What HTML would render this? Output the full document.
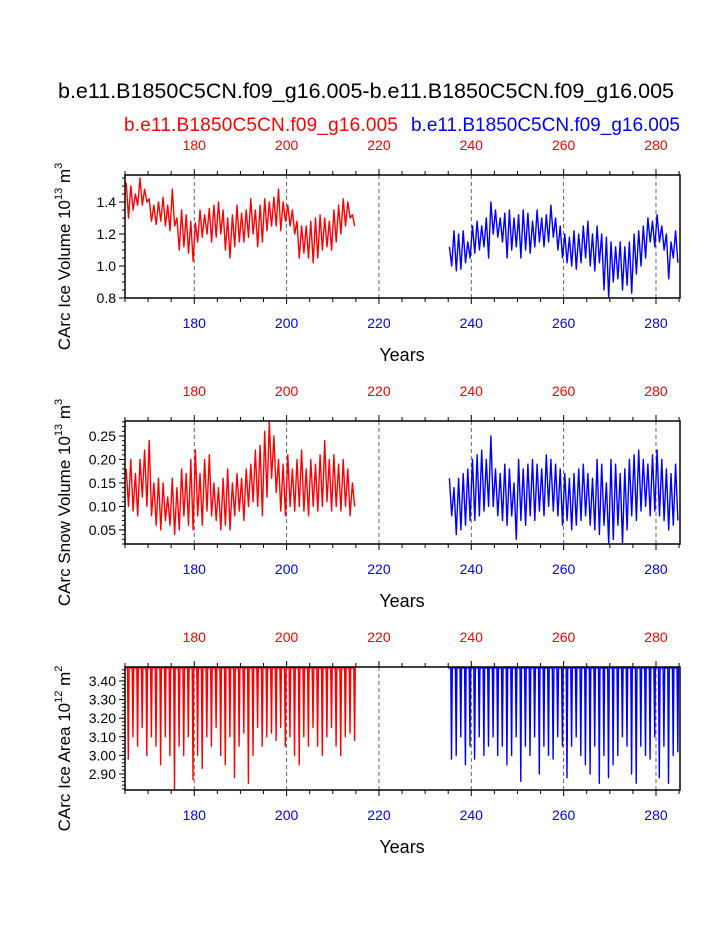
<!DOCTYPE html>
<html><head><meta charset="utf-8"><style>
body{margin:0;background:#fff}
svg{display:block;font-family:"Liberation Sans",sans-serif}
</style></head><body>
<svg id="c" width="723" height="935">
<text x="366" y="98" font-size="21.5" text-anchor="middle">b.e11.B1850C5CN.f09_g16.005-b.e11.B1850C5CN.f09_g16.005</text>
<text x="124" y="131" font-size="19" fill="#f00" text-anchor="start" textLength="274">b.e11.B1850C5CN.f09_g16.005</text>
<text x="680" y="131" font-size="19" fill="#00f" text-anchor="end">b.e11.B1850C5CN.f09_g16.005</text>
</svg>
<script>
const years=[180,200,220,240,260,280];
const redIceMax=[1.52,1.50,1.45,1.55,1.48,1.42,1.38,1.40,1.43,1.38,1.48,1.30,1.35,1.32,1.28,1.27,1.35,1.32,1.36,1.38,1.40,1.35,1.30,1.32,1.38,1.33,1.35,1.42,1.35,1.38,1.42,1.40,1.43,1.48,1.40,1.38,1.35,1.28,1.25,1.25,1.28,1.30,1.32,1.30,1.28,1.35,1.38,1.42,1.40,1.32];
const redIceMin=[1.30,1.35,1.38,1.38,1.40,1.28,1.26,1.28,1.25,1.22,1.25,1.10,1.12,1.08,1.03,1.15,1.18,1.20,1.15,1.18,1.20,1.10,1.05,1.12,1.15,1.15,1.18,1.20,1.12,1.15,1.22,1.25,1.25,1.22,1.28,1.25,1.20,1.05,1.08,1.05,1.02,1.05,1.10,1.12,1.10,1.15,1.20,1.25,1.30,1.25];
const blueIceMax=[1.12,1.22,1.20,1.22,1.15,1.25,1.28,1.25,1.30,1.40,1.35,1.30,1.33,1.35,1.30,1.32,1.35,1.33,1.28,1.35,1.30,1.32,1.38,1.30,1.25,1.20,1.18,1.22,1.20,1.25,1.28,1.20,1.25,1.20,1.18,1.15,1.12,1.15,1.12,1.15,1.20,1.22,1.25,1.30,1.28,1.32,1.25,1.20,1.15,1.22];
const blueIceMin=[1.00,0.97,0.98,1.02,1.05,1.08,1.10,1.12,1.05,1.20,1.18,1.15,1.05,1.10,1.12,1.05,1.10,1.08,1.12,1.15,1.12,1.15,1.18,1.10,1.05,1.02,1.00,0.98,1.02,1.05,1.00,0.97,1.02,0.85,0.80,0.90,0.92,0.85,0.88,0.83,0.95,1.00,1.05,1.15,1.12,1.15,1.10,0.92,1.05,1.02];
const redSnowMax=[0.18,0.20,0.17,0.20,0.22,0.24,0.15,0.16,0.15,0.12,0.16,0.14,0.18,0.17,0.20,0.22,0.17,0.20,0.21,0.15,0.14,0.16,0.18,0.15,0.17,0.16,0.18,0.19,0.22,0.23,0.26,0.28,0.25,0.20,0.19,0.21,0.18,0.20,0.22,0.18,0.20,0.19,0.21,0.24,0.20,0.21,0.19,0.20,0.18,0.15];
const redSnowMin=[0.10,0.09,0.08,0.12,0.10,0.08,0.06,0.05,0.07,0.06,0.04,0.05,0.08,0.06,0.05,0.08,0.06,0.09,0.08,0.07,0.05,0.06,0.05,0.08,0.09,0.07,0.10,0.11,0.10,0.08,0.12,0.16,0.13,0.09,0.08,0.10,0.09,0.10,0.09,0.08,0.10,0.09,0.10,0.11,0.09,0.10,0.09,0.10,0.08,0.10];
const blueSnowMax=[0.16,0.14,0.16,0.17,0.18,0.20,0.21,0.22,0.20,0.25,0.18,0.17,0.19,0.18,0.15,0.20,0.18,0.19,0.20,0.19,0.18,0.21,0.20,0.19,0.18,0.17,0.16,0.17,0.18,0.19,0.17,0.16,0.20,0.19,0.15,0.20,0.19,0.17,0.18,0.20,0.21,0.22,0.20,0.19,0.21,0.22,0.20,0.18,0.17,0.19];
const blueSnowMin=[0.08,0.04,0.05,0.06,0.07,0.07,0.08,0.09,0.10,0.10,0.08,0.07,0.06,0.08,0.03,0.07,0.06,0.08,0.07,0.09,0.08,0.10,0.09,0.08,0.06,0.07,0.05,0.06,0.07,0.08,0.06,0.05,0.04,0.06,0.02,0.03,0.06,0.02,0.05,0.08,0.07,0.09,0.10,0.08,0.09,0.08,0.07,0.05,0.06,0.07];
const redAreaMax=[3.47,3.47,3.47,3.47,3.47,3.47,3.47,3.47,3.47,3.47,3.47,3.47,3.47,3.47,3.47,3.47,3.47,3.47,3.47,3.47,3.47,3.47,3.47,3.47,3.47,3.47,3.47,3.47,3.47,3.47,3.47,3.47,3.47,3.47,3.47,3.47,3.47,3.47,3.47,3.47,3.47,3.47,3.47,3.47,3.47,3.47,3.47,3.47,3.47,3.47];
const redAreaMin=[2.98,3.10,3.05,3.15,3.00,3.10,3.05,2.95,3.10,3.00,2.82,3.05,3.00,3.10,2.87,3.00,2.93,3.10,3.05,3.15,3.00,2.95,3.10,2.88,3.05,3.12,2.85,3.00,3.15,3.05,3.10,3.12,3.08,3.15,3.05,3.10,3.00,2.95,3.10,3.05,3.15,3.05,3.00,3.10,3.15,3.05,3.00,3.10,3.12,3.08];
const blueAreaMax=[3.47,3.47,3.47,3.47,3.47,3.47,3.47,3.47,3.47,3.47,3.47,3.47,3.47,3.47,3.47,3.47,3.47,3.47,3.47,3.47,3.47,3.47,3.47,3.47,3.47,3.47,3.47,3.47,3.47,3.47,3.47,3.47,3.47,3.47,3.47,3.47,3.47,3.47,3.47,3.47,3.47,3.47,3.47,3.47,3.47,3.47,3.47,3.47,3.47,3.47];
const blueAreaMin=[2.98,3.00,3.10,2.95,3.05,2.98,3.10,3.00,3.05,3.10,3.00,3.05,2.95,3.00,3.10,2.86,3.05,3.00,3.10,2.90,3.05,3.00,2.98,3.10,3.05,2.88,3.05,3.10,3.00,2.95,2.90,3.05,2.85,3.00,2.88,2.95,3.00,3.10,3.05,2.90,2.85,3.05,3.00,2.98,3.10,2.88,3.05,2.85,3.00,3.02];
const redStart=165, blueStart=235;
const NS='http://www.w3.org/2000/svg';
const svg=document.getElementById('c');
function mk(t,a,p){const e=document.createElementNS(NS,t);for(const k in a)e.setAttribute(k,a[k]);(p||svg).appendChild(e);return e;}
const X0=125,X1=680,XMIN=165,XMAX=285.2;
const xs=v=>X0+(v-XMIN)/(XMAX-XMIN)*(X1-X0);
const panels=[
 {top:175,bot:298,ymin:0.8,ymax:1.569,major:[0.8,1.0,1.2,1.4],minor:0.05,fmt:1,label:'CArc Ice Volume 10',exp:'13',unit:'m',uexp:'3',name:'ice-volume',r:[redIceMax,redIceMin],b:[blueIceMax,blueIceMin],spike:false},
 {top:421,bot:544,ymin:0.02,ymax:0.282,major:[0.05,0.10,0.15,0.20,0.25],minor:0.01,fmt:2,label:'CArc Snow Volume 10',exp:'13',unit:'m',uexp:'3',name:'snow-volume',r:[redSnowMax,redSnowMin],b:[blueSnowMax,blueSnowMin],spike:false},
 {top:667,bot:790,ymin:2.814,ymax:3.475,major:[2.9,3.0,3.1,3.2,3.3,3.4],minor:0.02,fmt:2,label:'CArc Ice Area 10',exp:'12',unit:'m',uexp:'2',name:'ice-area',r:[redAreaMax,redAreaMin],b:[blueAreaMax,blueAreaMin],spike:true}
];
panels.forEach((P,pi)=>{
 const g=mk('g',{});
 
 
 const ys=v=>P.bot-(v-P.ymin)/(P.ymax-P.ymin)*(P.bot-P.top);
 years.forEach(y=>{const l=mk('line',{x1:xs(y),x2:xs(y),y1:P.top,y2:P.bot,stroke:'#555','stroke-width':0.9,'stroke-dasharray':'4,3'},g);
  });
 [[P.r,redStart,'#f00','red'],[P.b,blueStart,'#00f','blue']].forEach(([arr,st,col,nm])=>{
  let pts=[];
  arr[0].forEach((mx,i)=>{const yr=st+i;
   if(P.spike){pts.push([yr,mx],[yr+0.55,mx],[yr+0.72,arr[1][i]],[yr+0.88,mx]);}
   else{pts.push([yr+0.25,mx],[yr+0.75,arr[1][i]]);}
  });
  const pl=mk('polyline',{points:pts.map(p=>xs(p[0]).toFixed(1)+','+ys(p[1]).toFixed(1)).join(' '),fill:'none',stroke:col,'stroke-width':1.4,'stroke-linejoin':'round'},g);
  
 });
 const fr=mk('rect',{x:X0,y:P.top,width:X1-X0,height:P.bot-P.top,fill:'none',stroke:'#000','stroke-width':1.5},g);
 
 for(let y=165;y<=285;y+=5){const maj=y%20==0;const L=maj?6:4;const x=xs(y);
  mk('line',{x1:x,x2:x,y1:P.top,y2:P.top-L,stroke:'#000'},g);
  mk('line',{x1:x,x2:x,y1:P.bot,y2:P.bot+L,stroke:'#000'},g);}
 years.forEach(y=>{
  const t1=mk('text',{x:xs(y),y:P.top-25,'font-size':14,fill:'#f00','text-anchor':'middle'},g);t1.textContent=y;
  
  const t2=mk('text',{x:xs(y),y:P.bot+30,'font-size':14,fill:'#00f','text-anchor':'middle'},g);t2.textContent=y;
  
 });
 for(let v=Math.ceil(P.ymin/P.minor-1e-6)*P.minor;v<=P.ymax+1e-9;v+=P.minor){
  mk('line',{x1:X0,x2:X0-3,y1:ys(v),y2:ys(v),stroke:'#000'},g);}
 P.major.forEach(v=>{mk('line',{x1:X0,x2:X0-6,y1:ys(v),y2:ys(v),stroke:'#000'},g);
  const t=mk('text',{x:X0-9,y:ys(v)+5,'font-size':14,'text-anchor':'end'},g);t.textContent=v.toFixed(P.fmt);
  });
 const xt=mk('text',{x:402,y:P.bot+63,'font-size':18,'text-anchor':'middle'},g);xt.textContent='Years';
 
 const cy=(P.top+P.bot)/2+20;
 const yt=mk('text',{x:0,y:0,'font-size':17,'text-anchor':'middle',transform:`translate(70,${cy}) rotate(-90)`},g);
 
 yt.innerHTML=`${P.label}<tspan font-size="11" dy="-8">${P.exp}</tspan><tspan dy="8"> ${P.unit}</tspan><tspan font-size="11" dy="-8">${P.uexp}</tspan>`;
});
</script>
</body></html>
